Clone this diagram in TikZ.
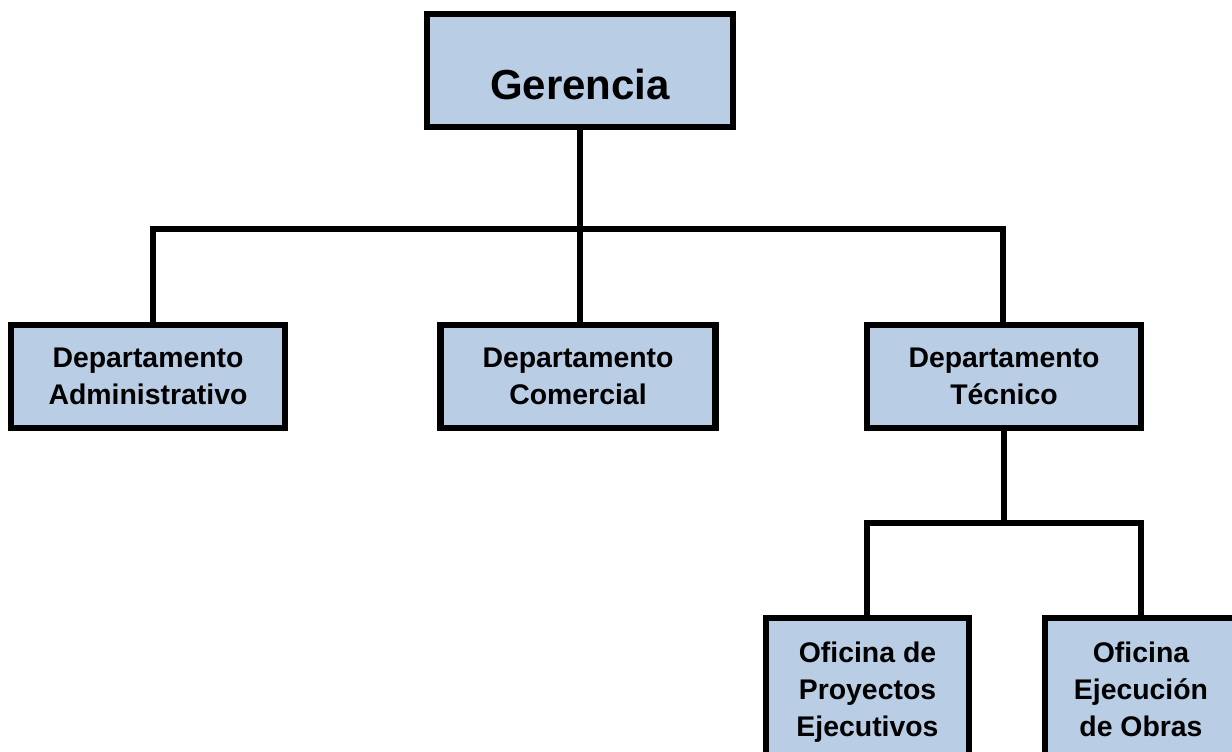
\documentclass[tikz,border=0pt]{standalone}
\usepackage{fontspec}
\setmainfont{Liberation Sans}
\definecolor{boxfill}{HTML}{B9CDE5}
\begin{document}
\begin{tikzpicture}[x=0.5pt,y=-0.5pt,
  orgbox/.style={draw=black,fill=boxfill,line width=3.2pt,rectangle,inner sep=0pt,align=center,
    font=\fontsize{14.2}{18.5}\selectfont\bfseries},
  conn/.style={draw=black,line width=3.2pt}]
\useasboundingbox (0,0) rectangle (1232,751);
\begin{scope}
\clip (0,0) rectangle (1232,751);
\node[orgbox,minimum width=153pt,minimum height=56.5pt] (ger) at (580,70.5) {};
\node[font=\fontsize{21}{25}\selectfont\bfseries] (gertxt) at (580,84) {Gerencia};
\node[orgbox,minimum width=137pt,minimum height=51.5pt] (adm) at (148,376.5) {Departamento\\Administrativo};
\node[orgbox,minimum width=137.5pt,minimum height=51.5pt] (com) at (578,376.5) {Departamento\\Comercial};
\node[orgbox,minimum width=137pt,minimum height=51.5pt] (tec) at (1004,376.5) {Departamento\\Técnico};
\node[orgbox,minimum width=101.5pt,minimum height=74pt] (ofp) at (867.5,692) {\strut Oficina de\\\strut Proyectos\\\strut Ejecutivos};
\node[orgbox,minimum width=96pt,minimum height=74pt] (ofe) at (1141,692) {\strut Oficina\\\strut Ejecución\\\strut de Obras};
\coordinate (busL) at (153,229);
\coordinate (busR) at (1003,229);
\coordinate (subL) at (867,523);
\coordinate (subR) at (1141,523);
\coordinate (subM) at (1004,523);
\draw[conn] (adm.north -| busL) -- (busL) -- (busR) -- (tec.north -| busR);
\draw[conn] (ger.south) -- (ger.south |- com.north);
\draw[conn] (tec.south) -- (subM);
\draw[conn] (ofp.north -| subL) -- (subL) -- (subR) -- (ofe.north -| subR);
\end{scope}
\end{tikzpicture}
\end{document}
